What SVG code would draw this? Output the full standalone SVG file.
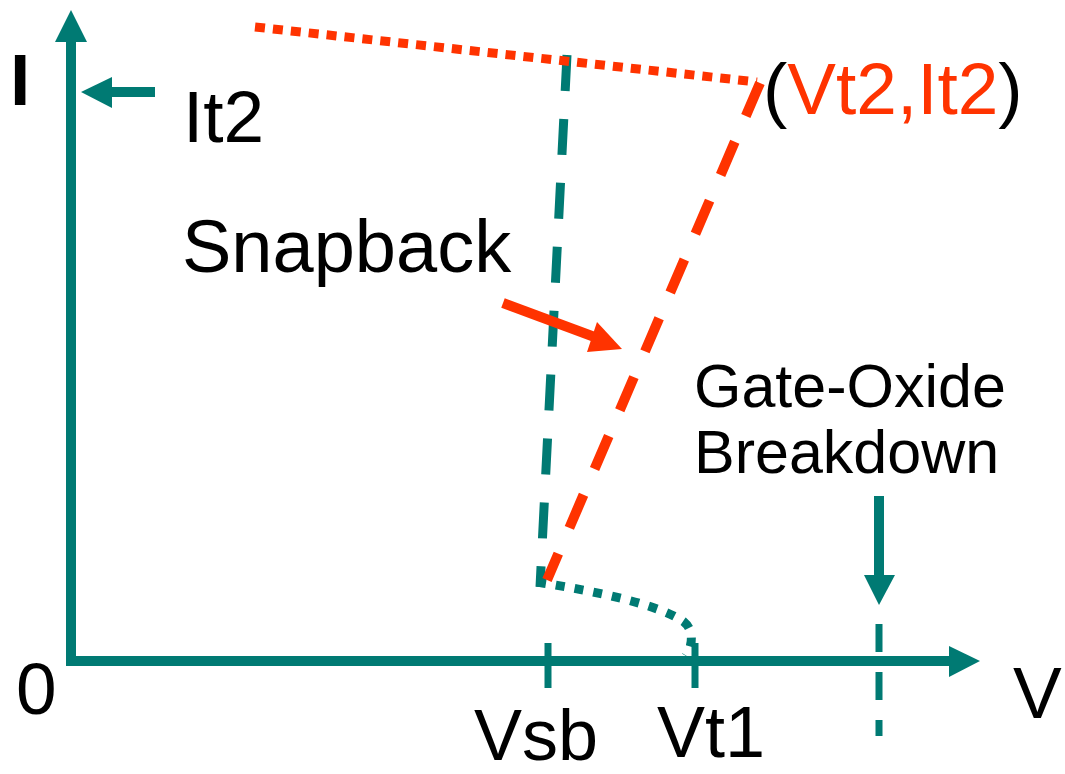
<svg xmlns="http://www.w3.org/2000/svg" width="1065" height="774" viewBox="0 0 1065 774">
  <style>
    .t { font-family: "Liberation Sans", Arial, sans-serif; fill: #000; }
    .teal { stroke: #007A73; fill: none; }
    .red { stroke: #FF3300; fill: none; }
    .tealfill { fill: #007A73; }
    .redfill { fill: #FF3300; }
  </style>
  <rect width="1065" height="774" fill="#fff"/>

  <g id="connectors">
    <!-- axes -->
    <line class="teal" x1="71" y1="665" x2="71" y2="40" stroke-width="10"/>
    <polygon class="tealfill" points="55,42 87,42 71,10"/>
    <line class="teal" x1="66" y1="661" x2="951" y2="661" stroke-width="10"/>
    <polygon class="tealfill" points="949,646 949,677 980,661"/>

    <!-- ticks -->
    <line class="teal" x1="548" y1="643" x2="548" y2="688" stroke-width="7"/>
    <line class="teal" x1="695" y1="643" x2="695" y2="688" stroke-width="7"/>

    <!-- It2 pointer -->
    <line class="teal" x1="155" y1="92" x2="110" y2="92" stroke-width="10"/>
    <polygon class="tealfill" points="112,77 112,108 81,92"/>

    <!-- gate-oxide breakdown pointer and limit -->
    <line class="teal" x1="879" y1="496" x2="879" y2="578" stroke-width="10"/>
    <polygon class="tealfill" points="864,575 895,575 879,605"/>
    <line class="teal" x1="879" y1="624" x2="879" y2="736" stroke-width="7" stroke-dasharray="28 20"/>

    <!-- holding branch -->
    <line class="teal" x1="567" y1="55" x2="540" y2="587" stroke-width="9" stroke-dasharray="36 28"/>
    <path class="teal" d="M537,582 C600,592 660,605 684,622 C694,630 693,645 686,656" stroke-width="9" stroke-dasharray="9 10"/>

    <!-- snapback branch -->
    <line class="red" x1="255" y1="27" x2="757" y2="82" stroke-width="9" stroke-dasharray="10 8"/>
    <line class="red" x1="760" y1="83" x2="547" y2="580" stroke-width="10" stroke-dasharray="36 28"/>

    <!-- snapback pointer -->
    <line class="red" x1="503" y1="303" x2="600" y2="339" stroke-width="10"/>
    <polygon class="redfill" points="597,322 587,352 622,349"/>
  </g>

  <g id="axis-labels">
    <text class="t" x="10" y="105" font-size="73" font-weight="bold">I</text>
    <text class="t" x="1013" y="718" font-size="73">V</text>
    <text class="t" x="16" y="714" font-size="73">0</text>
  </g>

  <g id="label-it2">
    <text class="t" x="183" y="142" font-size="73">It2</text>
  </g>

  <g id="label-vt2-it2">
    <text class="t" x="763" y="114" font-size="73">(<tspan fill="#FF3300">Vt2,It2</tspan>)</text>
  </g>

  <g id="label-snapback">
    <text class="t" x="182" y="272" font-size="74">Snapback</text>
  </g>

  <g id="label-gate-oxide">
    <text class="t" x="694" y="407" font-size="61">Gate-Oxide</text>
    <text class="t" x="694" y="473" font-size="61">Breakdown</text>
  </g>

  <g id="label-vsb">
    <text class="t" x="474" y="760" font-size="72">Vsb</text>
  </g>

  <g id="label-vt1">
    <text class="t" x="657" y="757" font-size="72">Vt1</text>
  </g>
</svg>
